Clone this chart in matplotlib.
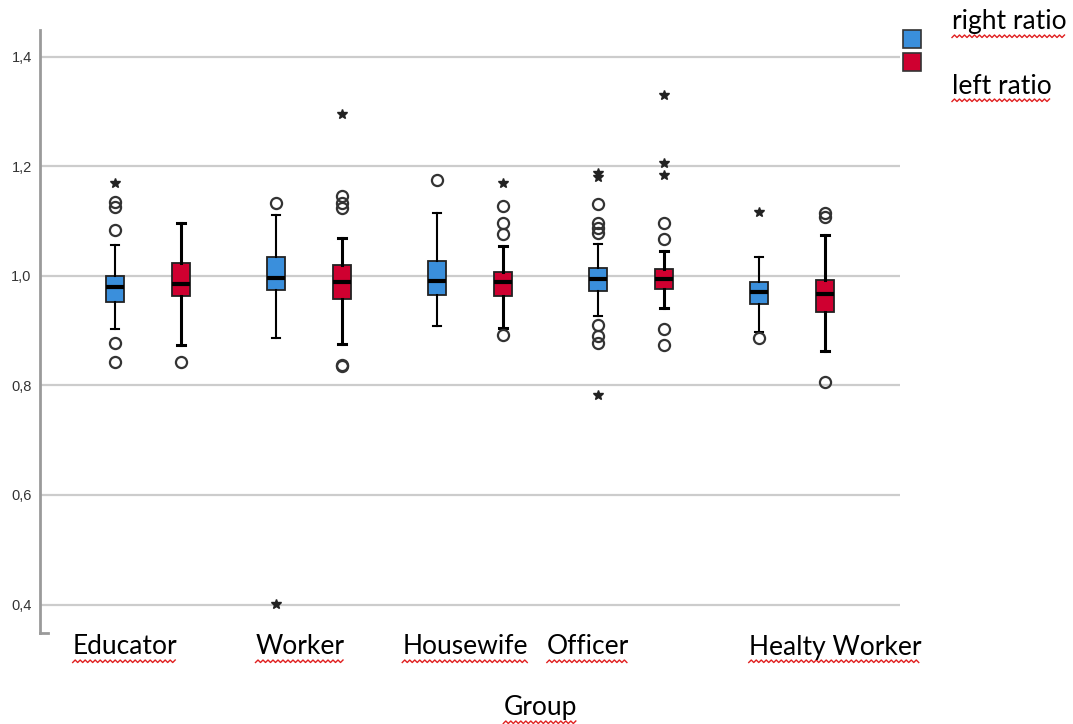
import numpy as np
import matplotlib
matplotlib.use("Agg")
import matplotlib.pyplot as plt
from matplotlib.lines import Line2D
from matplotlib.patches import Rectangle

# box statistics per group, read as ratio values
groups = ["Educator", "Worker", "Housewife", "Officer", "Healty Worker"]

right_med = [0.980, 0.997, 0.9915, 0.994, 0.971]
right_q1 = [0.952, 0.974, 0.966, 0.973, 0.949]
right_q3 = [0.999, 1.034, 1.028, 1.014, 0.988]
right_lo = [0.903, 0.886, 0.909, 0.926, 0.897]
right_hi = [1.057, 1.111, 1.115, 1.058, 1.035]
right_out = [[1.135, 1.125, 1.083, 0.878, 0.843],
             [1.133],
             [1.175],
             [1.131, 1.096, 1.087, 1.078, 0.910, 0.890, 0.877],
             [0.886]]
right_ext = [[1.169], [0.401], [], [1.188, 1.180, 0.783], [1.116]]

left_med = [0.986, 0.989, 0.989, 0.995, 0.967]
left_q1 = [0.9635, 0.9586, 0.964, 0.9757, 0.934]
left_q3 = [1.023, 1.020, 1.007, 1.012, 0.993]
left_lo = [0.874, 0.876, 0.905, 0.942, 0.862]
left_hi = [1.096, 1.069, 1.054, 1.046, 1.075]
left_out = [[0.842],
            [1.146, 1.133, 1.124, 0.838, 0.835],
            [1.127, 1.096, 1.077, 0.892],
            [1.097, 1.067, 0.903, 0.873],
            [1.114, 1.107, 0.807]]
left_ext = [[], [1.296], [1.170], [1.331, 1.207, 1.185], []]

yticks = [0.4, 0.6, 0.8, 1.0, 1.2, 1.4]
ytick_labels = ["0,4", "0,6", "0,8", "1,0", "1,2", "1,4"]

blue = "#3a8fdc"
red = "#cf0030"
label_font = ["Liberation Sans Narrow", "Lato", "DejaVu Sans"]

fig = plt.figure(figsize=(10.73, 7.24), dpi=100)
ax = fig.add_axes([40 / 1073, 1 - 633 / 724, 860 / 1073, 603 / 724])

x = np.arange(len(groups))
offset = 0.205


def make_stats(med, q1, q3, lo, hi, out):
    stats = []
    for i in range(len(med)):
        stats.append({"med": med[i], "q1": q1[i], "q3": q3[i],
                      "whislo": lo[i], "whishi": hi[i], "fliers": out[i]})
    return stats


series = [
    (make_stats(right_med, right_q1, right_q3, right_lo, right_hi, right_out),
     right_ext, x - offset, blue, 1.5),
    (make_stats(left_med, left_q1, left_q3, left_lo, left_hi, left_out),
     left_ext, x + offset, red, 2.2),
]

for stats, ext, pos, color, wlw in series:
    ax.bxp(stats, positions=pos, widths=0.108, patch_artist=True,
           boxprops=dict(facecolor=color, edgecolor="#222222", linewidth=1.3),
           medianprops=dict(color="black", linewidth=3),
           whiskerprops=dict(color="black", linewidth=wlw),
           capprops=dict(color="black", linewidth=wlw),
           capwidths=0.05,
           flierprops=dict(marker="o", markerfacecolor="none",
                           markeredgecolor="#333333", markersize=8,
                           markeredgewidth=1.6))
    for p, vals in zip(pos, ext):
        ax.plot([p] * len(vals), vals, linestyle="none", marker="*",
                color="#222222", markersize=7)

ax.set_xlim(-0.67, 4.67)
ax.set_ylim(0.348, 1.449)
ax.set_xticks([])
ax.set_yticks(yticks)
ax.set_yticklabels(ytick_labels, fontsize=10.5, color="#333333",
                   family="Liberation Sans")
ax.tick_params(axis="y", length=0, pad=6)
ax.yaxis.grid(True, color="#cccccc", linewidth=1.6)
ax.set_axisbelow(True)

for side in ["top", "right"]:
    ax.spines[side].set_visible(False)
ax.spines["left"].set_color("#9a9a9a")
ax.spines["left"].set_linewidth(2)
ax.spines["bottom"].set_color("#9a9a9a")
ax.spines["bottom"].set_linewidth(2)
ax.spines["bottom"].set_bounds(-0.67, -0.62)

# typed labels under the plot and the legend on the right
texts = []
label_x = [125, 300, 465, 588, 835]
for name, px in zip(groups, label_x):
    texts.append(fig.text(px / 1073, 1 - 647 / 724, name, ha="center",
                          va="center", fontsize=19, family=label_font))
texts.append(fig.text(540 / 1073, 1 - 708 / 724, "Group", ha="center",
                      va="center", fontsize=19, family=label_font))
texts.append(fig.text(952 / 1073, 1 - 22 / 724, "right ratio", ha="left",
                      va="center", fontsize=19, family=label_font))
texts.append(fig.text(952 / 1073, 1 - 86 / 724, "left ratio", ha="left",
                      va="center", fontsize=19, family=label_font))

for color, top in [(blue, 30), (red, 53)]:
    fig.patches.append(Rectangle((903 / 1073, 1 - (top + 18) / 724),
                                 18 / 1073, 18 / 724, facecolor=color,
                                 edgecolor="#333333", linewidth=1.2,
                                 transform=fig.transFigure))

# red wavy underline below every typed label
fig.canvas.draw()
renderer = fig.canvas.get_renderer()
W, H = fig.bbox.width, fig.bbox.height
for t in texts:
    bb = t.get_window_extent(renderer)
    xs = np.arange(bb.x0, bb.x1, 2.5)
    ys = bb.y0 - 3 + 2.5 * (np.arange(len(xs)) % 2)
    fig.lines.append(Line2D(xs / W, ys / H, color="#e02020", linewidth=1.0,
                            transform=fig.transFigure))

fig.savefig("out.png", dpi=100)
